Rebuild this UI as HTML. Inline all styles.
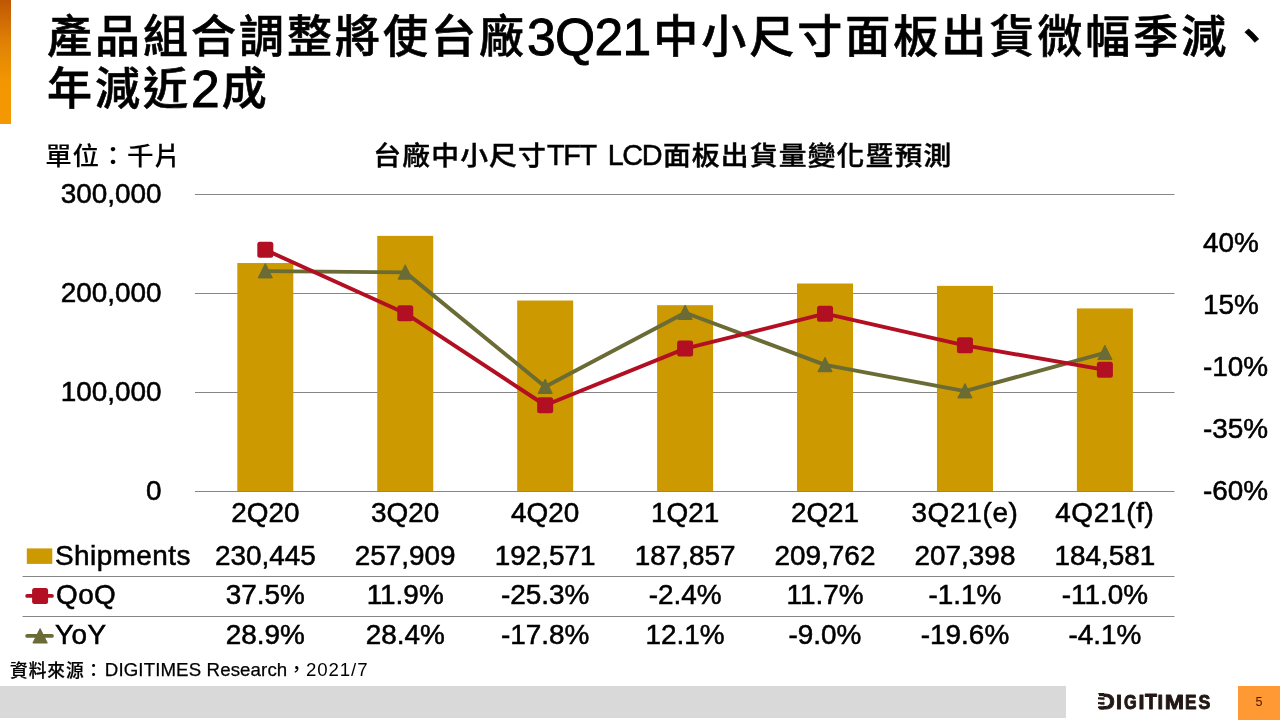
<!DOCTYPE html>
<html lang="zh-Hant">
<head>
<meta charset="utf-8">
<title>台廠中小尺寸TFT LCD面板出貨量變化暨預測</title>
<style>
html,body{margin:0;padding:0;}
body{width:1280px;height:720px;position:relative;overflow:hidden;background:#fff;color:#000;
 font-family:"Liberation Sans","Noto Sans CJK TC",sans-serif;}
.t{position:absolute;white-space:nowrap;line-height:40px;}
.c{text-align:center;}
.chart{position:absolute;left:0;top:0;}
.bar{position:absolute;left:0;top:0;width:11px;height:123.6px;background:linear-gradient(to bottom,#BF5704 0%,#DE7F06 32%,#E88C04 49%,#F29602 65%,#F49902 100%);}
h1{position:absolute;margin:0;left:47px;top:11.6px;font-size:45px;line-height:52.3px;font-weight:500;white-space:nowrap;letter-spacing:3px;-webkit-text-stroke:0.6px #000;}
h1 span{font-size:51.6px;letter-spacing:-0.7px;margin-right:2.8px;-webkit-text-stroke:0.9px #000;line-height:0;position:relative;top:2px;}
.unit{left:45.3px;top:136.4px;font-size:26.6px;letter-spacing:0.6px;font-weight:500;-webkit-text-stroke:0.1px #000;transform:scaleY(0.94);transform-origin:0 55%;}
.ct{top:135.5px;font-size:27.8px;letter-spacing:1.15px;font-weight:500;-webkit-text-stroke:0.45px #000;transform:scaleY(0.935);transform-origin:0 55%;}
.ct1{left:373.3px;}
.ct2{left:662.9px;}
.ctl{left:547px;top:135.2px;font-size:28.8px;letter-spacing:-1.4px;word-spacing:6px;-webkit-text-stroke:0.5px #000;}
.ax{font-size:27.9px;-webkit-text-stroke:0.55px #000;}
.lg{letter-spacing:0.45px;}
.w{letter-spacing:0.7px;}
.src{left:10px;top:650px;font-size:18.67px;font-weight:500;}
.src b{position:relative;top:1.2px;font-weight:500;font-size:17.7px;letter-spacing:0.97px;-webkit-text-stroke:0.2px #000;}
.src span{letter-spacing:0.9px;}
.src i{font-style:normal;letter-spacing:0.12px;margin-left:1.5px;-webkit-text-stroke:0.25px #000;}
.gray{position:absolute;left:0;top:686px;width:1066px;height:31.5px;background:#D9D9D9;}
.pg{position:absolute;left:1238px;top:686px;width:42px;height:34px;background:#FF9933;color:#4d1208;font-size:12.5px;line-height:33px;text-align:center;}
.logo{position:absolute;left:1090px;top:685px;}
</style>
</head>
<body>
<div class="bar"></div>
<h1>產品組合調整將使台廠<span>3Q21</span>中小尺寸面板出貨微幅季減、<br>年減近<span>2</span>成</h1>
<div class="t unit">單位：千片</div>
<div class="t ct ct1">台廠中小尺寸</div><div class="t ctl">TFT LCD</div><div class="t ct ct2">面板出貨量變化暨預測</div>
<svg class="chart" width="1280" height="720" viewBox="0 0 1280 720">
<line x1="195.0" x2="1174.5" y1="194.50" y2="194.50" stroke="#868686" stroke-width="1"/>
<line x1="195.0" x2="1174.5" y1="293.50" y2="293.50" stroke="#868686" stroke-width="1"/>
<line x1="195.0" x2="1174.5" y1="392.50" y2="392.50" stroke="#868686" stroke-width="1"/>
<rect x="237.31" y="263.04" width="56" height="228.46" fill="#CC9900"/>
<rect x="377.24" y="235.86" width="56" height="255.64" fill="#CC9900"/>
<rect x="517.17" y="300.52" width="56" height="190.98" fill="#CC9900"/>
<rect x="657.10" y="305.18" width="56" height="186.32" fill="#CC9900"/>
<rect x="797.03" y="283.51" width="56" height="207.99" fill="#CC9900"/>
<rect x="936.96" y="285.85" width="56" height="205.65" fill="#CC9900"/>
<rect x="1076.89" y="308.43" width="56" height="183.07" fill="#CC9900"/>
<line x1="195.0" x2="1174.5" y1="491.5" y2="491.5" stroke="#868686" stroke-width="1"/>
<line x1="22.5" x2="1174.5" y1="576.5" y2="576.5" stroke="#868686" stroke-width="1"/>
<line x1="22.5" x2="1174.5" y1="616.5" y2="616.5" stroke="#868686" stroke-width="1"/>
<polyline points="265.31,271.15 405.24,272.38 545.17,386.69 685.10,312.71 825.03,364.92 964.96,391.14 1104.89,352.79" fill="none" stroke="#6A6B35" stroke-width="3.9" stroke-linejoin="round" stroke-linecap="round"/>
<path d="M265.31 263.55 L272.41 277.95 L258.21 277.95 Z" fill="#6A6B35" stroke="#6A6B35" stroke-width="1" stroke-linejoin="round"/>
<path d="M405.24 264.78 L412.34 279.18 L398.14 279.18 Z" fill="#6A6B35" stroke="#6A6B35" stroke-width="1" stroke-linejoin="round"/>
<path d="M545.17 379.09 L552.27 393.49 L538.07 393.49 Z" fill="#6A6B35" stroke="#6A6B35" stroke-width="1" stroke-linejoin="round"/>
<path d="M685.10 305.11 L692.20 319.51 L678.00 319.51 Z" fill="#6A6B35" stroke="#6A6B35" stroke-width="1" stroke-linejoin="round"/>
<path d="M825.03 357.32 L832.13 371.72 L817.93 371.72 Z" fill="#6A6B35" stroke="#6A6B35" stroke-width="1" stroke-linejoin="round"/>
<path d="M964.96 383.54 L972.06 397.94 L957.86 397.94 Z" fill="#6A6B35" stroke="#6A6B35" stroke-width="1" stroke-linejoin="round"/>
<path d="M1104.89 345.19 L1111.99 359.59 L1097.79 359.59 Z" fill="#6A6B35" stroke="#6A6B35" stroke-width="1" stroke-linejoin="round"/>
<polyline points="265.31,249.87 405.24,313.21 545.17,405.25 685.10,348.59 825.03,313.70 964.96,345.37 1104.89,369.87" fill="none" stroke="#B20F22" stroke-width="3.9" stroke-linejoin="round" stroke-linecap="round"/>
<rect x="257.31" y="241.87" width="16" height="16" rx="2.5" fill="#B20F22"/>
<rect x="397.24" y="305.21" width="16" height="16" rx="2.5" fill="#B20F22"/>
<rect x="537.17" y="397.25" width="16" height="16" rx="2.5" fill="#B20F22"/>
<rect x="677.10" y="340.59" width="16" height="16" rx="2.5" fill="#B20F22"/>
<rect x="817.03" y="305.70" width="16" height="16" rx="2.5" fill="#B20F22"/>
<rect x="956.96" y="337.37" width="16" height="16" rx="2.5" fill="#B20F22"/>
<rect x="1096.89" y="361.87" width="16" height="16" rx="2.5" fill="#B20F22"/>
<rect x="26.8" y="548.4" width="25.5" height="15.5" fill="#CC9900"/>
<line x1="27.2" x2="51.9" y1="595.9" y2="595.9" stroke="#B20F22" stroke-width="3.9" stroke-linecap="round"/>
<rect x="32.1" y="587.9" width="16" height="16" rx="2.5" fill="#B20F22"/>
<line x1="27.2" x2="51.9" y1="635.9" y2="635.9" stroke="#6A6B35" stroke-width="3.9" stroke-linecap="round"/>
<path d="M40.1 628.6 L47.3 643 L32.9 643 Z" fill="#6A6B35" stroke="#6A6B35" stroke-width="1" stroke-linejoin="round"/>
</svg>
<div class="t ax axl" style="right:1118.5px;top:173.9px;">300,000</div>
<div class="t ax axl" style="right:1118.5px;top:272.9px;">200,000</div>
<div class="t ax axl" style="right:1118.5px;top:371.8px;">100,000</div>
<div class="t ax axl" style="right:1118.5px;top:470.8px;">0</div>
<div class="t ax axr" style="left:1203px;top:223.4px;">40%</div>
<div class="t ax axr" style="left:1203px;top:285.2px;">15%</div>
<div class="t ax axr" style="left:1203px;top:347.1px;">-10%</div>
<div class="t ax axr" style="left:1203px;top:408.9px;">-35%</div>
<div class="t ax axr" style="left:1203px;top:470.8px;">-60%</div>
<div class="t ax c" style="left:165.3px;width:200px;top:493.2px;">2Q20</div>
<div class="t ax c" style="left:165.3px;width:200px;top:536.1px;">230,445</div>
<div class="t ax c" style="left:165.3px;width:200px;top:575.3px;">37.5%</div>
<div class="t ax c" style="left:165.3px;width:200px;top:615.3px;">28.9%</div>
<div class="t ax c" style="left:305.2px;width:200px;top:493.2px;">3Q20</div>
<div class="t ax c" style="left:305.2px;width:200px;top:536.1px;">257,909</div>
<div class="t ax c" style="left:305.2px;width:200px;top:575.3px;">11.9%</div>
<div class="t ax c" style="left:305.2px;width:200px;top:615.3px;">28.4%</div>
<div class="t ax c" style="left:445.2px;width:200px;top:493.2px;">4Q20</div>
<div class="t ax c" style="left:445.2px;width:200px;top:536.1px;">192,571</div>
<div class="t ax c" style="left:445.2px;width:200px;top:575.3px;">-25.3%</div>
<div class="t ax c" style="left:445.2px;width:200px;top:615.3px;">-17.8%</div>
<div class="t ax c" style="left:585.1px;width:200px;top:493.2px;">1Q21</div>
<div class="t ax c" style="left:585.1px;width:200px;top:536.1px;">187,857</div>
<div class="t ax c" style="left:585.1px;width:200px;top:575.3px;">-2.4%</div>
<div class="t ax c" style="left:585.1px;width:200px;top:615.3px;">12.1%</div>
<div class="t ax c" style="left:725.0px;width:200px;top:493.2px;">2Q21</div>
<div class="t ax c" style="left:725.0px;width:200px;top:536.1px;">209,762</div>
<div class="t ax c" style="left:725.0px;width:200px;top:575.3px;">11.7%</div>
<div class="t ax c" style="left:725.0px;width:200px;top:615.3px;">-9.0%</div>
<div class="t ax w c" style="left:865.0px;width:200px;top:493.2px;">3Q21(e)</div>
<div class="t ax c" style="left:865.0px;width:200px;top:536.1px;">207,398</div>
<div class="t ax c" style="left:865.0px;width:200px;top:575.3px;">-1.1%</div>
<div class="t ax c" style="left:865.0px;width:200px;top:615.3px;">-19.6%</div>
<div class="t ax w c" style="left:1004.9px;width:200px;top:493.2px;">4Q21(f)</div>
<div class="t ax c" style="left:1004.9px;width:200px;top:536.1px;">184,581</div>
<div class="t ax c" style="left:1004.9px;width:200px;top:575.3px;">-11.0%</div>
<div class="t ax c" style="left:1004.9px;width:200px;top:615.3px;">-4.1%</div>
<div class="t ax lg" style="left:55px;top:536.1px;">Shipments</div>
<div class="t ax lg" style="left:56px;top:575.3px;">QoQ</div>
<div class="t ax lg" style="left:55px;top:615.3px;">YoY</div>
<div class="t src"><b>資料來源：</b><i>DIGITIMES Research</i>，<span>2021/7</span></div>
<div class="gray"></div>
<svg class="logo" width="130" height="32" viewBox="0 0 130 32" font-family="'Liberation Sans',sans-serif" font-weight="700" font-size="100" fill="#231815">
<text transform="matrix(0.2332 0 0 0.2282 7.890 24.150)" stroke="#231815" stroke-width="3.90" stroke-linejoin="round">D</text>
<text transform="matrix(0.2152 0 0 0.1962 26.010 24.150)" stroke="#231815" stroke-width="4.37" stroke-linejoin="round">I</text>
<text transform="matrix(0.1630 0 0 0.1963 34.081 24.158)" stroke="#231815" stroke-width="5.01" stroke-linejoin="round">G</text>
<text transform="matrix(0.2152 0 0 0.1962 48.510 24.150)" stroke="#231815" stroke-width="4.37" stroke-linejoin="round">I</text>
<text transform="matrix(0.1953 0 0 0.2282 55.031 24.150)" stroke="#231815" stroke-width="4.25" stroke-linejoin="round">T</text>
<text transform="matrix(0.2013 0 0 0.1962 67.603 24.150)" stroke="#231815" stroke-width="4.53" stroke-linejoin="round">I</text>
<text transform="matrix(0.2317 0 0 0.1962 74.700 24.150)" stroke="#231815" stroke-width="4.21" stroke-linejoin="round">M</text>
<text transform="matrix(0.1729 0 0 0.1962 94.893 24.150)" stroke="#231815" stroke-width="4.88" stroke-linejoin="round">E</text>
<text transform="matrix(0.1769 0 0 0.1963 108.440 24.158)" stroke="#231815" stroke-width="4.82" stroke-linejoin="round">S</text>
<rect x="7" y="11.1" width="6.6" height="10.3" fill="#fff"/>
<path d="M8 8 H14 V11.1 H9.6 Z"/>
<rect x="8" y="12.3" width="6.5" height="2.1"/>
<rect x="10.4" y="14.4" width="4.1" height="0.6"/>
<rect x="8" y="17.1" width="6.5" height="2.1"/>
<rect x="10.4" y="19.2" width="4.1" height="0.6"/>
<path d="M8 21.4 H14 V24.6 H11 L9.6 23.2 H8 Z"/>
</svg>
<div class="pg">5</div>
</body>
</html>
